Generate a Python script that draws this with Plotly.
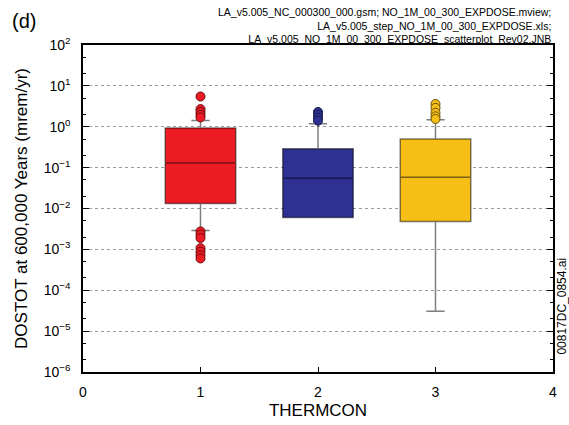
import plotly.graph_objects as go

# THERMCON cases and the summary statistics of DOSTOT (mrem/yr) for each
cases = [1, 2, 3]
q1 = [0.0133, 0.0060, 0.0048]
median = [0.13, 0.055, 0.058]
q3 = [0.93, 0.29, 0.50]
lower_fence = [0.0029, 0.0060, 3.05e-5]
upper_fence = [1.43, 1.18, 1.48]

# individual realizations beyond the whiskers
outliers_1 = [5.5, 2.7, 2.3, 1.96, 1.69, 0.00275, 0.0023, 0.0019,
              0.00107, 0.00088, 0.00072, 0.00060]
outliers_2 = [2.3, 1.97, 1.66, 1.41]
outliers_3 = [3.6, 2.9, 2.2, 1.8, 1.55]
outliers = [outliers_1, outliers_2, outliers_3]

fills = ["#ED1C24", "#2E3192", "#F7BE16"]
edges = ["#6e0c10", "#14164a", "#6b5108"]

y_tickvals = [1e-6, 1e-5, 1e-4, 1e-3, 1e-2, 1e-1, 1, 10, 100]
y_ticktext = ["10<sup>−6</sup>", "10<sup>−5</sup>", "10<sup>−4</sup>",
              "10<sup>−3</sup>", "10<sup>−2</sup>", "10<sup>−1</sup>",
              "10<sup>0</sup>", "10<sup>1</sup>", "10<sup>2</sup>"]

FONT = "Liberation Sans, Arial, sans-serif"

fig = go.Figure()

for i, c in enumerate(cases):
    fig.add_trace(go.Box(
        x=[c], q1=[q1[i]], median=[median[i]], q3=[q3[i]],
        lowerfence=[lower_fence[i]], upperfence=[upper_fence[i]],
        width=0.6, whiskerwidth=0.26, boxpoints=False,
        fillcolor=fills[i],
        line=dict(color="rgba(0,0,0,0.5)", width=1.5),
        showlegend=False, hoverinfo="skip",
    ))
    fig.add_trace(go.Scatter(
        x=[c] * len(outliers[i]), y=outliers[i], mode="markers",
        marker=dict(size=9, color=fills[i],
                    line=dict(color=edges[i], width=1)),
        showlegend=False, hoverinfo="skip",
    ))

fig.update_layout(
    width=569, height=425,
    margin=dict(l=83, r=16, t=45, b=53),
    paper_bgcolor="white", plot_bgcolor="white",
    font=dict(family=FONT, color="black", size=13),
)

fig.update_xaxes(
    range=[0, 4], tickvals=[0, 1, 2, 3, 4],
    ticks="inside", ticklen=5, tickcolor="black",
    ticklabelstandoff=6, automargin=False,
    showline=True, linecolor="black", linewidth=1.5, mirror=True,
    showgrid=False, zeroline=False,
    tickfont=dict(size=14),
    title=dict(text="THERMCON", font=dict(size=17), standoff=6),
)

fig.update_yaxes(
    type="log", range=[-6, 2],
    tickvals=y_tickvals, ticktext=y_ticktext,
    ticks="inside", ticklen=6, tickcolor="black",
    ticklabelstandoff=8, automargin=False,
    minor=dict(ticks="inside", ticklen=3, tickcolor="black", showgrid=False),
    showline=True, linecolor="black", linewidth=1.5, mirror="allticks",
    showgrid=True, gridcolor="#9a9a9a", griddash="dot", gridwidth=1,
    zeroline=False,
    tickfont=dict(size=14),
    title=dict(text="DOSTOT at 600,000 Years (mrem/yr)", font=dict(size=17),
               standoff=12),
)

fig.add_annotation(
    xref="paper", yref="paper", x=1, y=1.0, yshift=-2,
    xanchor="right", yanchor="bottom",
    align="right", showarrow=False,
    text=("LA_v5.005_NC_000300_000.gsm; NO_1M_00_300_EXPDOSE.mview;<br>"
          "LA_v5.005_step_NO_1M_00_300_EXPDOSE.xls;<br>"
          "LA_v5.005_NO_1M_00_300_EXPDOSE_scatterplot_Rev02.JNB"),
    font=dict(size=10.5),
)
fig.add_annotation(
    xref="paper", yref="paper", x=-0.155, y=1.07, yshift=1,
    xanchor="left", yanchor="middle",
    showarrow=False, text="(d)", font=dict(size=20),
)
fig.add_annotation(
    xref="paper", yref="paper", x=1.0, xshift=9, y=0.2,
    xanchor="center", yanchor="middle",
    showarrow=False, text="00817DC_0854.ai", textangle=-90, font=dict(size=12),
)

fig.write_html("out.html")
